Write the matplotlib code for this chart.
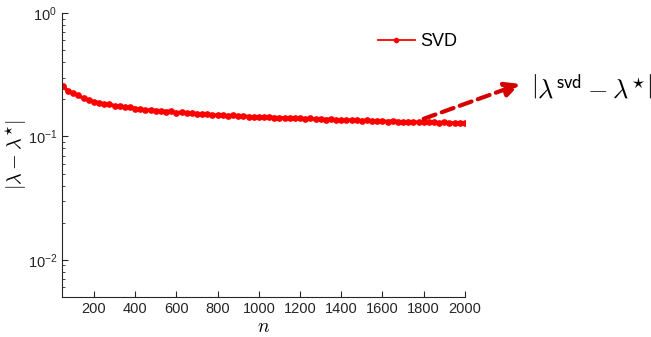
import numpy as np
import matplotlib
matplotlib.use('Agg')
import matplotlib.pyplot as plt
from matplotlib.lines import Line2D

plt.rcParams['font.family'] = ['Liberation Sans', 'DejaVu Sans']
plt.rcParams['mathtext.fontset'] = 'cm'

# error of the SVD estimate vs n
n = list(range(50, 2001, 25))
err = [0.255, 0.232, 0.224, 0.215, 0.203, 0.198, 0.190, 0.187, 0.183, 0.182,
       0.177, 0.176, 0.172, 0.173, 0.168, 0.166, 0.164, 0.163, 0.162, 0.161,
       0.159, 0.160, 0.155, 0.157, 0.155, 0.154, 0.153, 0.151, 0.151, 0.150,
       0.148, 0.149, 0.147, 0.148, 0.146, 0.146, 0.145, 0.144, 0.144, 0.143,
       0.144, 0.142, 0.142, 0.141, 0.142, 0.140, 0.140, 0.139, 0.140, 0.138,
       0.138, 0.137, 0.138, 0.136, 0.136, 0.135, 0.136, 0.135, 0.134, 0.135,
       0.133, 0.134, 0.133, 0.132, 0.133, 0.132, 0.131, 0.132, 0.131, 0.130,
       0.131, 0.130, 0.130, 0.129, 0.130, 0.129, 0.128, 0.129, 0.128]
xticks = [200, 400, 600, 800, 1000, 1200, 1400, 1600, 1800, 2000]

fig = plt.figure(figsize=(6.51, 3.37), dpi=100)
ax = fig.add_axes([0.0952, 0.1187, 0.619, 0.8427])

ax.semilogy(n, err, '-', color='red', lw=2.6, marker='o', ms=3.8, mec='red', label='SVD')
ax.set_xlim(45, 2000)
ax.set_ylim(0.005, 1)
ax.set_xticks(xticks)

for s in ['top', 'right']:
    ax.spines[s].set_visible(False)
for s in ['left', 'bottom']:
    ax.spines[s].set_color('#262626')
ax.tick_params(which='both', direction='in', colors='#262626', labelsize=10.5)
ax.tick_params(which='major', length=4.5)
ax.tick_params(which='minor', length=2.5)
ax.tick_params(axis='x', which='minor', bottom=False)

ax.set_xlabel('$n$', fontsize=14, labelpad=2)
ax.set_ylabel(r'$|\lambda - \lambda^{\star}|$', fontsize=14.5)
ax.yaxis.set_label_coords(-0.083, 0.5)

# legend handle with a thin line and small dot
h = Line2D([], [], color='red', lw=1.3, marker='o', ms=3)
ax.legend([h], ['SVD'], loc='center left', bbox_to_anchor=(0.745, 0.9), frameon=False,
          fontsize=13, handlelength=2.0, handletextpad=0.3)

ax.annotate('', xy=(0.799, 0.751), xycoords='figure fraction',
            xytext=(1800, 0.139), textcoords='data',
            arrowprops=dict(arrowstyle='-|>', color='#d40000', lw=3,
                            ls=(0, (3, 1.6)), mutation_scale=22, shrinkA=0, shrinkB=0),
            annotation_clip=False)
fig.text(0.815, 0.735, r'$\left|\lambda^{\mathsf{svd}} - \lambda^{\star}\right|$',
         fontsize=19, va='center', ha='left')

fig.savefig('out.png', dpi=100)
